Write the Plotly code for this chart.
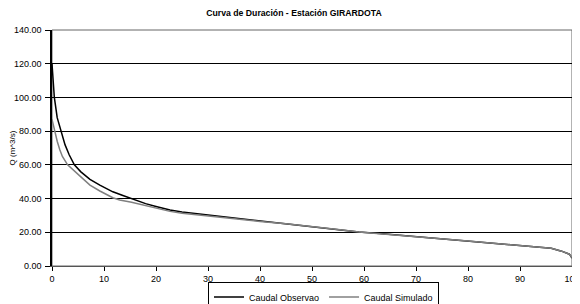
import plotly.graph_objects as go

pct_obs = [0, 0.2, 0.45, 1, 1.7, 2.5, 3.3, 4.3, 5.5, 7.3, 9.2, 11.7, 13.5, 15.3, 18,
           20, 22.7, 25, 28.5, 32.4, 36, 40, 45, 50, 55, 59, 63, 70, 80, 90, 94, 96,
           98, 99, 99.5, 100]
q_obs = [120, 110, 100, 88, 80, 72, 66, 60, 56, 51.4, 48, 44, 42, 40, 37, 35.3, 33.2,
         32, 30.8, 29.3, 28.1, 26.7, 25.2, 23.7, 21.8, 20.2, 19.3, 17.4, 14.8, 12.1,
         11.3, 10.5, 8.8, 7.8, 7, 4.7]
pct_sim = [0, 0.2, 0.58, 1, 1.5, 2, 3, 4, 5.5, 7.3, 9.2, 11.7, 13, 15.3, 18, 20, 22.7,
           25, 28.5, 32.4, 36, 40, 45, 50, 55, 59, 63, 70, 80, 90, 94, 96, 98, 99,
           99.5, 100]
q_sim = [87, 84, 80, 74, 69, 65, 60, 57, 53, 48, 44.5, 40.5, 39.2, 37.8, 35.8, 34.6,
         32.4, 31.3, 30.1, 28.6, 27.7, 26.4, 25, 23.5, 21.7, 20.2, 19.3, 17.4, 14.8,
         12.1, 11.3, 10.5, 8.8, 7.8, 7, 5]
y_ticks = [0, 20, 40, 60, 80, 100, 120, 140]
x_ticks = [0, 10, 20, 30, 40, 50, 60, 70, 80, 90, 100]

FAM = "Liberation Sans, Arial, sans-serif"

fig = go.Figure()
fig.add_trace(go.Scatter(x=pct_obs, y=q_obs, mode="lines", name="Caudal Observao",
                         line=dict(color="black", width=1.5)))
fig.add_trace(go.Scatter(x=pct_sim, y=q_sim, mode="lines", name="Caudal Simulado",
                         line=dict(color="#808080", width=1.5)))

# page body has an 8px margin, so the figure is sized to fit the 580x304 window
fig.update_layout(
    width=572, height=296,
    margin=dict(l=44, r=8, t=22, b=38, autoexpand=False),
    paper_bgcolor="white", plot_bgcolor="white",
    font=dict(family=FAM, size=9, color="black"),
    title=dict(text="<b>Curva de Duración - Estación GIRARDOTA</b>",
               x=0.5, xanchor="center", y=0.983, yanchor="middle",
               font=dict(family=FAM, size=8.7)),
    showlegend=True,
    legend=dict(orientation="h", x=0.30, xanchor="left",
                y=-0.066, yanchor="top",
                bordercolor="black", borderwidth=1, bgcolor="white",
                font=dict(size=9), itemwidth=30, tracegroupgap=0),
    xaxis=dict(range=[0, 100], tickvals=x_ticks, showgrid=False, zeroline=False,
               showline=True, linecolor="#555555", linewidth=1, automargin=False,
               ticks="outside", ticklen=4, tickcolor="black"),
    yaxis=dict(range=[0, 140], tickvals=y_ticks, tickformat=".2f", automargin=False,
               showgrid=True, gridcolor="black", gridwidth=1, zeroline=False,
               showline=True, linecolor="black", linewidth=1.5,
               ticks="outside", ticklen=5, tickcolor="black", ticklabelstandoff=2,
               title=dict(text="Q (m^3/s)", standoff=2, font=dict(size=8))),
)
fig.add_shape(type="rect", xref="paper", yref="paper", x0=0, x1=1, y0=0, y1=1,
              line=dict(color="#666666", width=1), layer="below")

fig.write_html("out.html")
